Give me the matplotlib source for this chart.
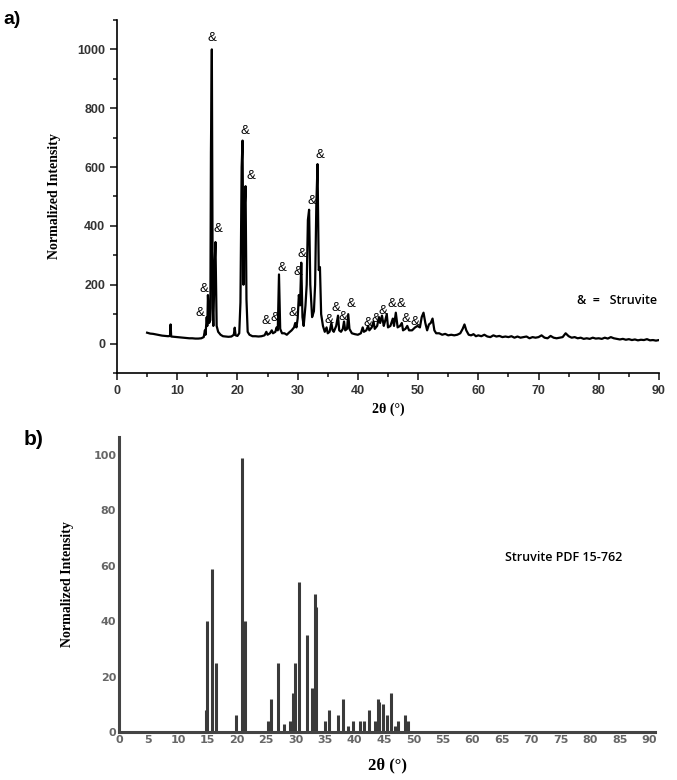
import numpy as np
import matplotlib
matplotlib.use("Agg")
import matplotlib.pyplot as plt
from matplotlib.ticker import MultipleLocator

two_theta = [5.0, 5.5, 6.0, 6.5, 7.0, 7.5, 8.0, 8.5, 8.8, 8.9, 9.0, 9.5, 10.0, 10.5,
             11.0, 11.5, 12.0, 12.5, 13.0, 13.5, 14.0, 14.4, 14.6, 14.7, 14.9, 15.0,
             15.1, 15.3, 15.5, 15.6, 15.75, 15.9, 16.0, 16.2, 16.35, 16.55, 16.8, 17.2,
             17.6, 18.0, 18.5, 19.0, 19.4, 19.55, 19.7, 20.0, 20.3, 20.5, 20.7, 20.85,
             21.0, 21.2, 21.35, 21.5, 21.7, 22.0, 22.5, 23.0, 23.5, 24.0, 24.5, 24.8,
             25.0, 25.4, 25.7, 25.9, 26.3, 26.5, 26.7, 26.9, 27.1, 27.4, 27.8, 28.2,
             28.6, 29.0, 29.4, 29.6, 29.8, 30.0, 30.2, 30.4, 30.6, 30.8, 31.0, 31.3,
             31.5, 31.7, 31.9, 32.1, 32.4, 32.7, 32.9, 33.1, 33.3, 33.5, 33.7, 33.9,
             34.2, 34.5, 34.8, 35.0, 35.3, 35.6, 35.8, 36.0, 36.4, 36.7, 36.9, 37.2,
             37.5, 37.7, 37.9, 38.2, 38.4, 38.6, 39.0, 39.5, 40.0, 40.5, 40.8, 41.0,
             41.4, 41.7, 41.9, 42.3, 42.6, 42.8, 43.2, 43.5, 43.7, 44.0, 44.3, 44.5,
             44.8, 45.0, 45.4, 45.8, 46.0, 46.3, 46.6, 47.0, 47.3, 47.5, 47.9, 48.2,
             48.5, 49.0, 49.5, 49.9, 50.3, 50.6, 50.9, 51.2, 51.5, 51.8, 52.1, 52.4,
             52.7, 53.0, 53.5, 54.0, 54.5, 55.0, 55.5, 56.0, 56.5, 57.0, 57.4, 57.7,
             58.0, 58.4, 58.8, 59.2, 59.6, 60.0, 60.5, 61.0, 61.5, 62.0, 62.5, 63.0,
             63.5, 64.0, 64.5, 65.0, 65.5, 66.0, 66.5, 67.0, 67.5, 68.0, 68.5, 69.0,
             69.5, 70.0, 70.5, 71.0, 71.5, 72.0, 72.5, 73.0, 73.5, 74.0, 74.5, 75.0,
             75.5, 76.0, 76.5, 77.0, 77.5, 78.0, 78.5, 79.0, 79.5, 80.0, 80.5, 81.0,
             81.5, 82.0, 82.5, 83.0, 83.5, 84.0, 84.5, 85.0, 85.5, 86.0, 86.5, 87.0,
             87.5, 88.0, 88.5, 89.0, 89.5, 90.0]
intensity = [37, 34, 33, 31, 29, 27, 26, 25, 26, 65, 24, 23, 22, 21,
             20, 19, 18, 18, 17, 17, 18, 22, 45, 30, 90, 60,
             165, 70, 80, 650, 1000, 120, 60, 260, 345, 60, 40, 30,
             25, 24, 23, 24, 30, 54, 28, 26, 35, 140, 600, 690,
             200, 460, 535, 150, 40, 30, 25, 25, 24, 25, 28, 40,
             30, 35, 45, 35, 40, 55, 45, 235, 50, 35, 35, 30,
             38, 45, 55, 70, 55, 85, 165, 130, 275, 90, 60, 130,
             200, 420, 455, 200, 90, 110, 200, 470, 610, 250, 260, 100,
             60, 40, 55, 35, 40, 70, 45, 40, 60, 95, 45, 40,
             50, 75, 45, 50, 100, 50, 35, 32, 30, 35, 55, 40,
             45, 60, 45, 55, 75, 50, 60, 90, 70, 95, 60, 75,
             100, 55, 60, 85, 60, 105, 55, 60, 70, 45, 50, 60,
             45, 45, 55, 60, 55, 90, 105, 70, 45, 65, 70, 85,
             45, 35, 35, 30, 33, 28, 30, 28, 30, 35, 50, 65,
             45, 30, 28, 32, 25, 28, 25, 30, 24, 22, 28, 24,
             26, 22, 24, 22, 25, 20, 24, 20, 22, 24, 18, 22,
             20, 22, 28, 20, 18, 26, 20, 18, 20, 22, 35, 25,
             20, 22, 18, 20, 16, 18, 16, 20, 17, 18, 16, 20,
             17, 22, 18, 16, 14, 16, 13, 15, 12, 14, 11, 13,
             12, 15, 11, 12, 10, 12]

# struvite markers placed on panel (a)
amp_x = [15.7, 13.8, 14.5, 16.8, 21.3, 22.3, 24.8, 26.2, 27.4, 29.2, 30.1, 30.7,
         32.4, 33.7, 35.2, 36.4, 37.5, 38.8, 41.7, 43.0, 44.2, 45.7, 47.1, 47.9, 49.4]
amp_y = [1040, 105, 184, 388, 724, 568, 78, 88, 258, 105, 245, 303,
         483, 640, 80, 122, 90, 136, 71, 82, 110, 136, 136, 82, 75]

# (b) reference pattern, struvite PDF 15-762
ref_2theta = [14.7, 15.0, 15.8, 16.4, 19.8, 20.8, 21.4, 25.3, 25.8, 27.0, 28.0, 29.1,
              29.5, 29.9, 30.5, 31.9, 32.8, 33.2, 33.5, 35.0, 35.6, 37.2, 38.1, 38.8,
              39.7, 40.9, 41.6, 42.4, 43.4, 44.0, 44.2, 44.9, 45.5, 46.2, 46.8, 47.3,
              48.5, 49.0]
ref_int = [8, 40, 59, 25, 6, 99, 40, 4, 12, 25, 3, 4,
           14, 25, 54, 35, 16, 50, 45, 4, 8, 6, 12, 2,
           4, 4, 4, 8, 4, 12, 11, 10, 6, 14, 2, 4,
           6, 4]

fig = plt.figure(figsize=(6.77, 7.80), dpi=100)

# ---- panel a
ax1 = fig.add_axes([0.1728, 0.5218, 0.8006, 0.4526])
ax1.plot(two_theta, intensity, color="black", lw=1.6)
for xx, yy in zip(amp_x, amp_y):
    ax1.text(xx, yy, "&", ha="center", va="center", fontsize=9.5,
             family="Liberation Sans")
ax1.text(83, 145, "&  =   Struvite", ha="center", va="center", fontsize=9,
         family="Open Sans", fontweight="semibold")
ax1.set_xlim(0, 90)
ax1.set_ylim(-100, 1100)
ax1.xaxis.set_major_locator(MultipleLocator(10))
ax1.xaxis.set_minor_locator(MultipleLocator(5))
ax1.yaxis.set_major_locator(MultipleLocator(200))
ax1.yaxis.set_minor_locator(MultipleLocator(100))
for s in ["top", "right"]:
    ax1.spines[s].set_visible(False)
ax1.spines["left"].set_linewidth(1.2)
ax1.spines["bottom"].set_linewidth(1.2)
ax1.tick_params(which="both", direction="out", width=1.2, color="#222222")
ax1.tick_params(which="major", length=5, labelsize=9)
ax1.tick_params(which="minor", length=3)
for lab in ax1.get_xticklabels() + ax1.get_yticklabels():
    lab.set_family("Liberation Sans")
    lab.set_fontweight("bold")
    lab.set_color("#333333")
ax1.set_ylabel("Normalized Intensity", family="Liberation Serif",
               fontweight="bold", fontsize=10, labelpad=12)
ax1.set_xlabel("2θ (°)", family="Liberation Serif", fontweight="bold",
               fontsize=10, labelpad=4)
fig.text(0.005, 0.975, "a)", family="Liberation Sans", fontweight="bold",
         fontsize=14, va="center")

# ---- panel b
ax2 = fig.add_axes([0.1758, 0.0615, 0.7917, 0.3782])
ax2.vlines(ref_2theta, 0, ref_int, color="#3a3a3a", lw=2.2)
ax2.text(75.5, 63, "Struvite PDF 15-762", ha="center", va="center",
         fontsize=9, family="Open Sans", fontweight="semibold")
ax2.set_xlim(0, 91)
ax2.set_ylim(0, 106.5)
ax2.set_xticks(np.arange(0, 91, 5))
ax2.set_yticks(np.arange(0, 101, 20))
for s in ["top", "right"]:
    ax2.spines[s].set_visible(False)
ax2.spines["left"].set_linewidth(2.2)
ax2.spines["bottom"].set_linewidth(2.2)
ax2.spines["left"].set_color("#444444")
ax2.spines["bottom"].set_color("#444444")
ax2.tick_params(which="both", length=0, labelsize=8, pad=2)
for lab in ax2.get_xticklabels() + ax2.get_yticklabels():
    lab.set_family("DejaVu Sans")
    lab.set_fontweight("bold")
    lab.set_color("#666666")
ax2.set_ylabel("Normalized Intensity", family="Liberation Serif",
               fontweight="bold", fontsize=10, labelpad=14)
ax2.set_xlabel("2θ (°)", family="Liberation Serif", fontweight="bold",
               fontsize=12, labelpad=9)
fig.text(0.035, 0.437, "b)", family="Liberation Sans", fontweight="bold",
         fontsize=15, va="center")

fig.savefig("out.png", dpi=100)
